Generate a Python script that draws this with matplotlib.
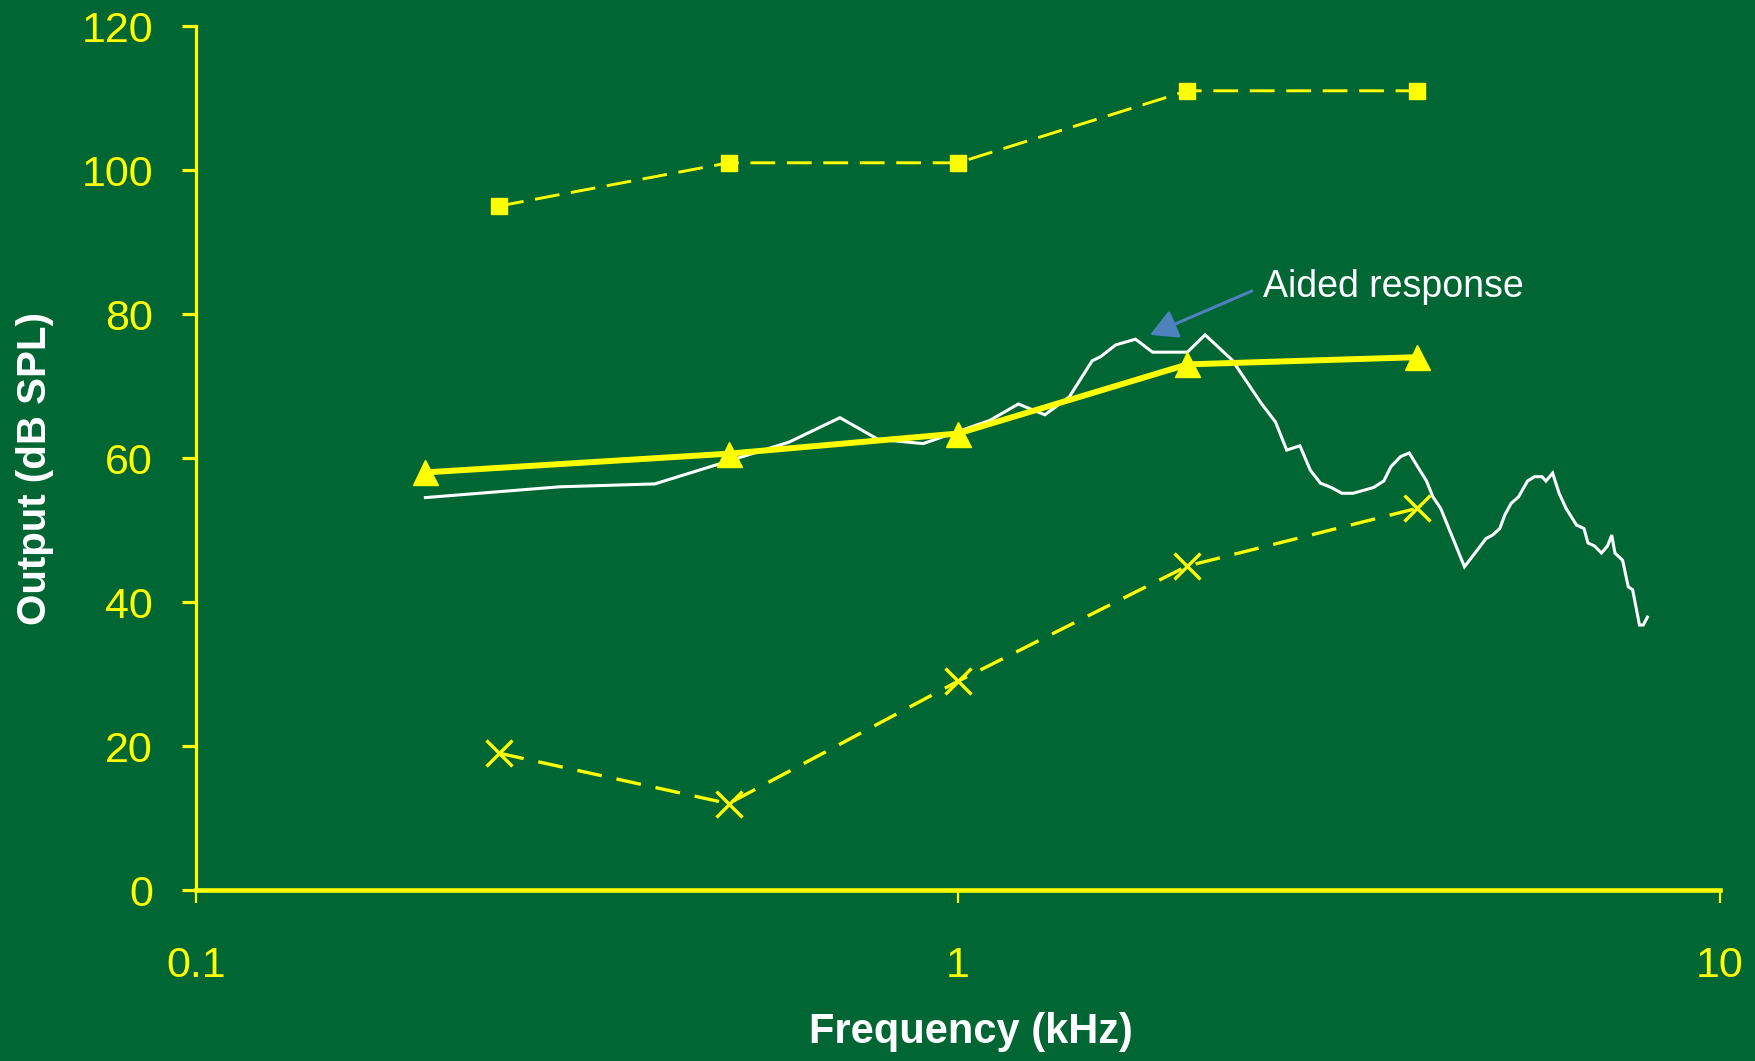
import matplotlib
matplotlib.use("Agg")
import matplotlib.pyplot as plt
from matplotlib.ticker import FixedLocator, FixedFormatter, NullLocator

# Audiometric frequencies (kHz)
freq_khz = [0.25, 0.5, 1, 2, 4]
# Uncomfortable loudness levels (dB SPL)
ucl_db = [95, 101, 101, 111, 111]
# Hearing thresholds (dB SPL)
threshold_db = [19, 12, 29, 45, 53]

# Prescription target
target_freq_khz = [0.2, 0.5, 1, 2, 4]
target_db = [58, 60.6, 63.4, 73, 74]

# Measured aided response
aided_freq_khz = [0.2, 0.3, 0.4, 0.48, 0.6, 0.7, 0.785, 0.9, 1.1, 1.2, 1.3, 1.4,
                  1.5, 1.54, 1.61, 1.71, 1.80, 2.0, 2.11, 2.29, 2.5, 2.61, 2.70,
                  2.81, 2.90, 2.99, 3.09, 3.19, 3.30, 3.51, 3.62, 3.70, 3.81, 3.91,
                  4.01, 4.12, 4.20, 4.30, 4.62, 4.77, 4.93, 5.03, 5.14, 5.22, 5.32,
                  5.44, 5.59, 5.71, 5.84, 5.91, 6.03, 6.15, 6.28, 6.48, 6.63, 6.71,
                  6.84, 6.99, 7.12, 7.21, 7.28, 7.45, 7.58, 7.68, 7.84, 7.93, 8.03]
aided_db = [54.5, 56.0, 56.4, 59.0, 62.2, 65.6, 62.6, 62.0, 65.2, 67.5, 66.0, 68.5,
            73.5, 74.1, 75.7, 76.5, 74.7, 74.7, 77.1, 73.6, 67.6, 65.0, 61.1,
            61.7, 58.3, 56.5, 55.9, 55.1, 55.1, 55.9, 56.8, 58.8, 60.2, 60.7,
            58.8, 56.8, 54.6, 53.0, 44.9, 46.8, 48.8, 49.3, 50.2, 52.1, 53.7,
            54.6, 56.8, 57.4, 57.4, 56.8, 57.9, 55.1, 53.0, 50.7, 50.2, 48.2,
            47.8, 46.8, 47.8, 49.3, 46.8, 45.8, 42.1, 41.7, 36.8, 36.8, 37.9]

x_ticks = [0.1, 1, 10]
x_tick_labels = ["0.1", "1", "10"]
y_ticks = [0, 20, 40, 60, 80, 100, 120]
y_tick_labels = ["0", "20", "40", "60", "80", "100", "120"]

BG = "#006633"
YELLOW = "#FFFF00"
WHITE = "#FFFFFF"
ARROW = "#4F81BD"

plt.rcParams["font.family"] = ["Liberation Sans", "DejaVu Sans"]

fig = plt.figure(figsize=(17.56, 10.61), dpi=100, facecolor=BG)
ax = fig.add_axes([196 / 1756, 1 - 890 / 1061, 1524 / 1756, 864 / 1061])
ax.set_facecolor(BG)

# Upper dashed curve with squares
ax.plot(freq_khz, ucl_db, color=YELLOW, lw=2.1, dashes=(8.5, 4.0),
        marker="s", ms=11.5, mec=YELLOW, mfc=YELLOW, zorder=3)

# Lower dashed curve with crosses
ax.plot(freq_khz, threshold_db, color=YELLOW, lw=2.4, dashes=(7.5, 4.5),
        marker="x", ms=19, mew=2.4, mec=YELLOW, zorder=3)

# Aided response curve
ax.plot(aided_freq_khz, aided_db, color=WHITE, lw=2.2, zorder=2,
        solid_joinstyle="miter")

# Target curve with triangles
ax.plot(target_freq_khz, target_db, color=YELLOW, lw=4.3, marker="^",
        ms=18, mec=YELLOW, mfc=YELLOW, zorder=4)

ax.set_xscale("log")
ax.set_xlim(0.1, 10)
ax.set_ylim(0, 120)

ax.xaxis.set_major_locator(FixedLocator(x_ticks))
ax.xaxis.set_major_formatter(FixedFormatter(x_tick_labels))
ax.xaxis.set_minor_locator(NullLocator())
ax.yaxis.set_major_locator(FixedLocator(y_ticks))
ax.yaxis.set_major_formatter(FixedFormatter(y_tick_labels))

for side in ("top", "right"):
    ax.spines[side].set_visible(False)
ax.spines["left"].set_color(YELLOW)
ax.spines["left"].set_linewidth(2.3)
ax.spines["bottom"].set_color(YELLOW)
ax.spines["bottom"].set_linewidth(3.3)

ax.tick_params(axis="y", colors=YELLOW, labelsize=31, length=10, width=2.3,
               direction="out", pad=21)
ax.tick_params(axis="x", colors=YELLOW, labelsize=31, length=9, width=1.6,
               direction="out", pad=31)

ax.set_xlabel("Frequency (kHz)", color=WHITE, fontsize=30, fontweight="bold",
              va="baseline")
ax.xaxis.set_label_coords(0.5085, -0.177)
ax.set_ylabel("Output (dB SPL)", color=WHITE, fontsize=29, fontweight="bold",
              va="center", ha="center")
ax.yaxis.set_label_coords(-0.1056, 0.488)

ax.annotate("", xy=(1.786, 77.1), xytext=(2.43, 83.2),
            arrowprops=dict(arrowstyle="-|>,head_length=0.55,head_width=0.3",
                            color=ARROW, lw=2.2, mutation_scale=30,
                            shrinkA=0, shrinkB=0), zorder=5)
ax.text(2.51, 82.4, "Aided response", color=WHITE, fontsize=27,
        ha="left", va="baseline", zorder=5)

fig.savefig("out.png", dpi=100, facecolor=BG)
